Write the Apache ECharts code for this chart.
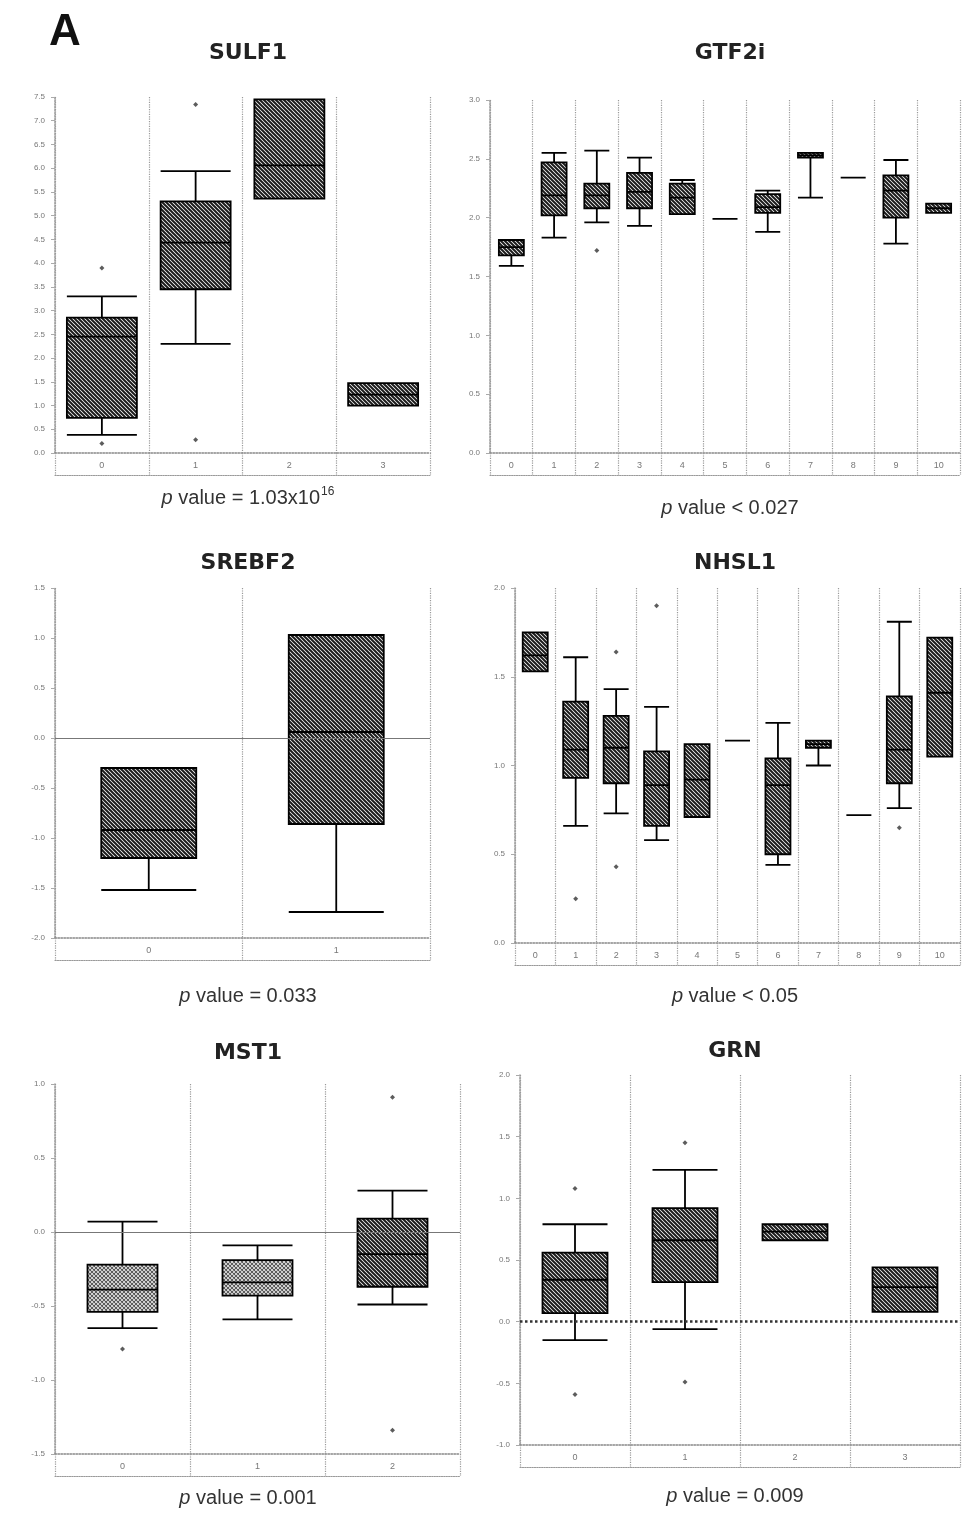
<!DOCTYPE html>
<html><head><meta charset="utf-8">
<script src="https://cdn.jsdelivr.net/npm/echarts@6/dist/echarts.min.js"></script>
<style>html,body{margin:0;padding:0;background:#fff}#c{width:971px;height:1517px}</style>
</head><body><div id="c"></div>
<script>
// ---------- DATA ----------
const titles = ['SULF1','GTF2i','SREBF2','NHSL1','MST1','GRN'];
const pvalues = [['= 1.03x10','16'],['< 0.027',''],['= 0.033',''],['< 0.05',''],['= 0.001',''],['= 0.009','']];

const sulf1Cats = ['0','1','2','3'];
const sulf1Box = [[0.38,0.74,2.45,2.85,3.3],[2.3,3.45,4.43,5.3,5.94],[5.36,5.36,6.06,7.45,7.45],[1.0,1.0,1.23,1.47,1.47]];
const sulf1Out = [[0,3.9],[0,0.2],[1,7.34],[1,0.28]];
const sulf1Ticks = [0,7.5,0.5];

const gtf2iCats = ['0','1','2','3','4','5','6','7','8','9','10'];
const gtf2iBox = [[1.59,1.68,1.75,1.81,1.81],[1.83,2.02,2.19,2.47,2.55],[1.96,2.08,2.19,2.29,2.57],[1.93,2.08,2.22,2.38,2.51],[2.03,2.03,2.17,2.29,2.32],[1.99,1.99,1.99,1.99,1.99],[1.88,2.04,2.09,2.2,2.23],[2.17,2.51,2.53,2.55,2.55],[2.34,2.34,2.34,2.34,2.34],[1.78,2.0,2.23,2.36,2.49],[2.04,2.04,2.08,2.12,2.12]];
const gtf2iOut = [[2,1.72]];
const gtf2iTicks = [0,3,0.5];

const srebf2Cats = ['0','1'];
const srebf2Box = [[-1.52,-1.2,-0.92,-0.3,-0.3],[-1.74,-0.86,0.06,1.03,1.03]];
const srebf2Out = [];
const srebf2Ticks = [-2,1.5,0.5];

const nhsl1Cats = ['0','1','2','3','4','5','6','7','8','9','10'];
const nhsl1Box = [[1.53,1.53,1.62,1.75,1.75],[0.66,0.93,1.09,1.36,1.61],[0.73,0.9,1.1,1.28,1.43],[0.58,0.66,0.89,1.08,1.33],[0.71,0.71,0.92,1.12,1.12],[1.14,1.14,1.14,1.14,1.14],[0.44,0.5,0.89,1.04,1.24],[1.0,1.1,1.12,1.14,1.14],[0.72,0.72,0.72,0.72,0.72],[0.76,0.9,1.09,1.39,1.81],[1.05,1.05,1.41,1.72,1.72]];
const nhsl1Out = [[1,0.25],[2,1.64],[2,0.43],[3,1.9],[9,0.65]];
const nhsl1Ticks = [0,2,0.5];

const mst1Cats = ['0','1','2'];
const mst1Box = [[-0.65,-0.54,-0.39,-0.22,0.07],[-0.59,-0.43,-0.34,-0.19,-0.09],[-0.49,-0.37,-0.15,0.09,0.28]];
const mst1Out = [[0,-0.79],[2,0.91],[2,-1.34]];
const mst1Ticks = [-1.5,1,0.5];

const grnCats = ['0','1','2','3'];
const grnBox = [[-0.15,0.07,0.34,0.56,0.79],[-0.06,0.32,0.66,0.92,1.23],[0.66,0.66,0.73,0.79,0.79],[0.08,0.08,0.28,0.44,0.44]];
const grnOut = [[0,1.08],[0,-0.59],[1,1.45],[1,-0.49]];
const grnTicks = [-1,2,0.5];

// ---------- STYLE / LAYOUT ----------
const data = [
  [sulf1Cats,sulf1Box,sulf1Out,sulf1Ticks],
  [gtf2iCats,gtf2iBox,gtf2iOut,gtf2iTicks],
  [srebf2Cats,srebf2Box,srebf2Out,srebf2Ticks],
  [nhsl1Cats,nhsl1Box,nhsl1Out,nhsl1Ticks],
  [mst1Cats,mst1Box,mst1Out,mst1Ticks],
  [grnCats,grnBox,grnOut,grnTicks]
];
const layout = [
  {left:55,width:375,top:97,height:356,box:70,titleY:50,pY:493,cx:243},
  {left:490,width:470,top:100,height:353,box:25,titleY:50,pY:505,cx:725},
  {left:55,width:375,top:588,height:350,box:95,titleY:560,pY:993,cx:243,zero:'thin'},
  {left:515,width:445,top:588,height:355,box:25,titleY:560,pY:993,cx:730},
  {left:55,width:405,top:1084,height:370,box:70,titleY:1050,pY:1495,cx:243,zero:'thin',light:[0,1]},
  {left:520,width:440,top:1075,height:370,box:65,titleY:1048,pY:1493,cx:730,zero:'thick'}
];

function makePattern(dark, light){
  const c = document.createElement('canvas');
  const s = 4; c.width = s; c.height = s;
  const g = c.getContext('2d');
  g.fillStyle = '#fff'; g.fillRect(0,0,s,s);
  g.strokeStyle = dark; g.lineWidth = light ? 1.1 : 2.0;
  g.beginPath();
  g.moveTo(-1,-1); g.lineTo(s+1,s+1);
  g.moveTo(-1,s-1); g.lineTo(1,s+1);
  g.moveTo(s-1,-1); g.lineTo(s+1,1);
  if (light){ g.moveTo(-1,s+1); g.lineTo(s+1,-1); g.moveTo(-1,1); g.lineTo(1,-1); g.moveTo(s-1,s+1); g.lineTo(s+1,s-1); }
  g.stroke();
  return {image:c, repeat:'repeat'};
}
const hatch = makePattern('#1c1c1c', false);
const hatchLight = makePattern('#555', true);

const grids=[], xAxes=[], yAxes=[], series=[], titleArr=[];
const dot = {color:'#9a9a9a', type:'dotted', width:1.2};

data.forEach((d,i)=>{
  const [cats, box, out, ticks] = d;
  const L = layout[i];
  grids.push({left:L.left, top:L.top, width:L.width, height:L.height});
  xAxes.push({type:'category', gridIndex:i, data:cats, boundaryGap:true, position:'bottom',
    axisLine:{show:true, onZero:false, lineStyle:{color:'#888', type:'dotted', width:1.5}},
    axisTick:{show:true, length:22, lineStyle:dot},
    axisLabel:{fontSize:9, color:'#777', margin:8, fontFamily:'Liberation Sans'},
    splitLine:{show:true, lineStyle:dot}});
  xAxes.push({type:'category', gridIndex:i, data:cats, position:'bottom', offset:22,
    axisLine:{show:true, onZero:false, lineStyle:{color:'#999', type:'dotted', width:1.2}},
    axisTick:{show:false}, axisLabel:{show:false}, splitLine:{show:false}});
  yAxes.push({type:'value', gridIndex:i, min:ticks[0], max:ticks[1], interval:ticks[2],
    axisLine:{show:true, onZero:false, lineStyle:{color:'#999', type:'dotted', width:1.5}},
    axisTick:{show:true, length:4, lineStyle:{color:'#aaa'}},
    axisLabel:{fontSize:8, color:'#777', margin:10, fontFamily:'Liberation Sans',
      formatter:v=>v.toFixed(1)},
    splitLine:{show:false}});
  const bs = {type:'boxplot', xAxisIndex:2*i, yAxisIndex:i, boxWidth:[L.box,L.box],
    data: box.map((b,j)=>({value:b, itemStyle:{color:(L.light && L.light.includes(j))?hatchLight:hatch}})),
    itemStyle:{color:hatch, borderColor:'#000', borderWidth:1.8}, silent:true, z:3};
  if (L.zero){
    bs.markLine = {silent:true, symbol:'none', label:{show:false}, data:[{yAxis:0}],
      lineStyle: L.zero==='thick' ? {color:'#333', type:'dotted', width:2.5} : {color:'#777', type:'solid', width:1}};
  }
  series.push(bs);
  series.push({type:'scatter', xAxisIndex:2*i, yAxisIndex:i, data:out, symbol:'diamond', symbolSize:5,
    itemStyle:{color:'#333'}, silent:true, z:4});
  titleArr.push({text:titles[i], left:L.cx, top:L.titleY-13, textAlign:'center',
    textStyle:{fontSize:22, fontWeight:'bold', color:'#222', fontFamily:'DejaVu Sans'}});
  const pv = pvalues[i];
  titleArr.push({text:'{i|p} value '+pv[0]+(pv[1]?'{s|'+pv[1]+'}':''), left:L.cx, top:L.pY-12, textAlign:'center',
    textStyle:{fontSize:20, fontWeight:'normal', color:'#333', fontFamily:'Liberation Sans',
      rich:{i:{fontStyle:'italic', fontSize:20, color:'#333', fontFamily:'Liberation Sans'},
            s:{fontSize:12, color:'#333', verticalAlign:'top', padding:[0,0,12,1], fontFamily:'Liberation Sans'}}}});
});
titleArr.push({text:'A', left:44, top:6, textStyle:{fontSize:44, fontWeight:'bold', color:'#111', fontFamily:'Liberation Sans'}});

const chart = echarts.init(document.getElementById('c'));
chart.setOption({animation:false, backgroundColor:'#fff', title:titleArr, grid:grids, xAxis:xAxes, yAxis:yAxes, series:series});
</script></body></html>
